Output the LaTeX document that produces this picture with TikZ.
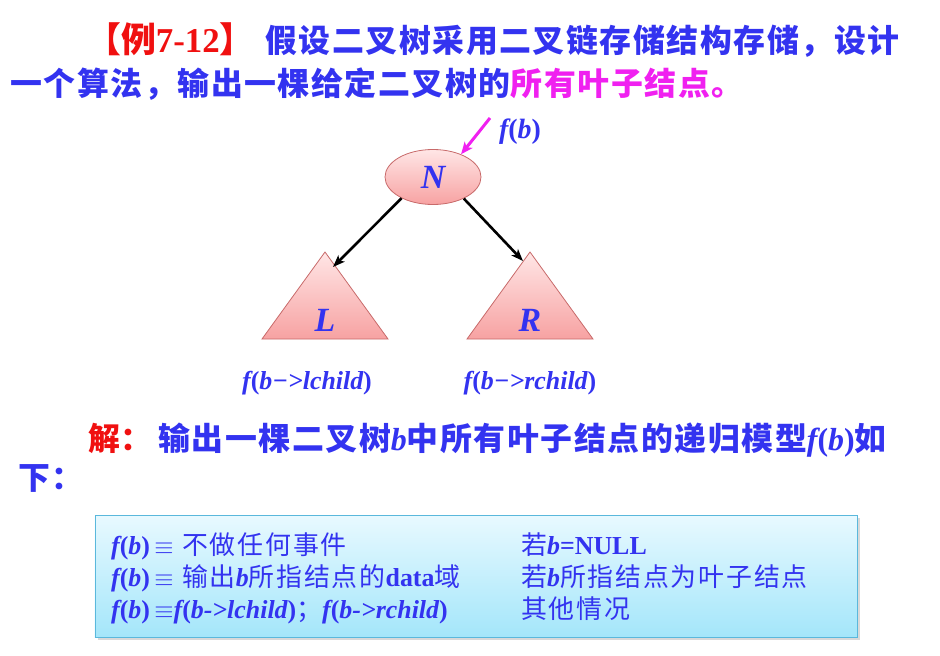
\documentclass[tikz,border=0pt]{standalone}
\usepackage{fontspec}
\setmainfont{Liberation Serif}
\newfontfamily\cjk{Noto Sans CJK SC}
\newfontfamily\cjkw{Noto Sans CJK SC}[LetterSpace=5]
\newfontfamily\cjkb{Noto Sans CJK SC}[LetterSpace=7]
\usetikzlibrary{shapes.geometric,shadows,arrows.meta}
\definecolor{tblue}{HTML}{3333F0}
\definecolor{tmag}{HTML}{F020F0}
\definecolor{tred}{HTML}{F01010}
\definecolor{pinkT}{HTML}{FFE6E6}
\definecolor{pinkB}{HTML}{F7A2A2}
\definecolor{pinkD}{HTML}{C86A6A}
\definecolor{boxT}{HTML}{E8F9FF}
\definecolor{boxB}{HTML}{A4E6FA}
\definecolor{boxD}{HTML}{5AB8DC}
\newcommand\ib[1]{{\rmfamily\bfseries\itshape #1}}
\newcommand\rb[1]{{\rmfamily\bfseries\upshape #1}}
\newcommand\fb{\ib{f}\rb{(}\ib{b}\rb{)}}
\tikzset{
  txt/.style={anchor=base west, inner sep=0, text=tblue},
  big/.style={font=\fontsize{32}{36}\selectfont},
  mid/.style={font=\fontsize{26}{30}\selectfont},
  boxfont/.style={font=\fontsize{26}{30}\selectfont},
  pinkfill/.style={draw=pinkD, line width=0.8bp, top color=pinkT, bottom color=pinkB},
  edge/.style={-{Stealth[length=12bp,width=9bp,inset=3bp]}, line width=2.6bp, black},
  lbl/.style={inner sep=0, text=tblue, font=\fontsize{34}{38}\selectfont},
}
\begin{document}
\begin{tikzpicture}[x=1bp,y=-1bp]
\useasboundingbox (0,0) rectangle (940,656);
% title
\node[txt, text=tred, font=\fontsize{35}{38}\selectfont] (ex) at (86,53) {{\cjk\bfseries 【例}\rb{7-12}{\cjk\bfseries 】}};
\node[txt, big] (t1) at (265,53) {\cjkw\bfseries 假设二叉树采用二叉链存储结构存储，设计};
\node[txt, big] (t2) at (10,96) {\cjkw\bfseries 一个算法，输出一棵给定二叉树的\textcolor{tmag}{所有叶子结点。}};
% tree
\node[ellipse, pinkfill, minimum width=96bp, minimum height=55bp, inner sep=0, lbl] (N) at (433,177) {\ib{N}};
\draw[pinkfill] (325,252) -- (388,339) -- (262,339) -- cycle;
\draw[pinkfill] (530,252) -- (593,339) -- (467,339) -- cycle;
\node[lbl] (L) at (325,320) {\ib{L}};
\node[lbl] (R) at (530,320) {\ib{R}};
\coordinate (Lin) at (333,267);
\coordinate (Rin) at (523,261);
\draw[edge] (N.214) -- (Lin);
\draw[edge] (N.325) -- (Rin);
\coordinate (fbs) at (490,118);
\draw[-{Stealth[length=12bp,width=10bp,inset=3bp]}, line width=3bp, tmag] (fbs) -- (N.39);
\node[inner sep=0, text=tblue, font=\fontsize{28}{32}\selectfont] (fbl) at (520,132) {\fb};
\node[inner sep=0, text=tblue, mid] (fl) at (307,383) {\ib{f}\rb{(}\ib{b−>lchild}\rb{)}};
\node[inner sep=0, text=tblue, mid] (fr) at (530,383) {\ib{f}\rb{(}\ib{b−>rchild}\rb{)}};
% solution
\node[txt, big, text=tred] (sol) at (88,450) {\cjk\bfseries 解：};
\node[txt, big] (sol2) at (158,450) {\cjkw\bfseries 输出一棵二叉树\ib{b}中所有叶子结点的递归模型\fb 如};
\node[txt, big] (sol3) at (18,489) {\cjkw\bfseries 下：};
% box
\node[draw=boxD, line width=0.8bp, top color=boxT, bottom color=boxB, drop shadow={shadow xshift=3bp, shadow yshift=-3bp, opacity=0.3},
      minimum width=762bp, minimum height=122bp, inner sep=0] (box) at (476,576) {};
\node[txt, boxfont] (r1a) at (111,554) {\fb\,$\equiv$\,\,{\cjkb 不做任何事件}};
\node[txt, boxfont] (r1b) at (521,554) {{\cjkb 若}\ib{b}\rb{=NULL}};
\node[txt, boxfont] (r2a) at (111,586) {\fb\,$\equiv$\,\,{\cjkb 输出}\ib{b}{\cjkb 所指结点的}\rb{data}{\cjkb 域}};
\node[txt, boxfont] (r2b) at (521,586) {{\cjkb 若}\ib{b}{\cjkb 所指结点为叶子结点}};
\node[txt, boxfont] (r3a) at (111,618) {\fb\,$\equiv$\ib{f}\rb{(}\ib{b->lchild}\rb{)}{\cjk ；}\ib{f}\rb{(}\ib{b->rchild}\rb{)}};
\node[txt, boxfont] (r3b) at (521,618) {\cjkb 其他情况};
\end{tikzpicture}
\end{document}
